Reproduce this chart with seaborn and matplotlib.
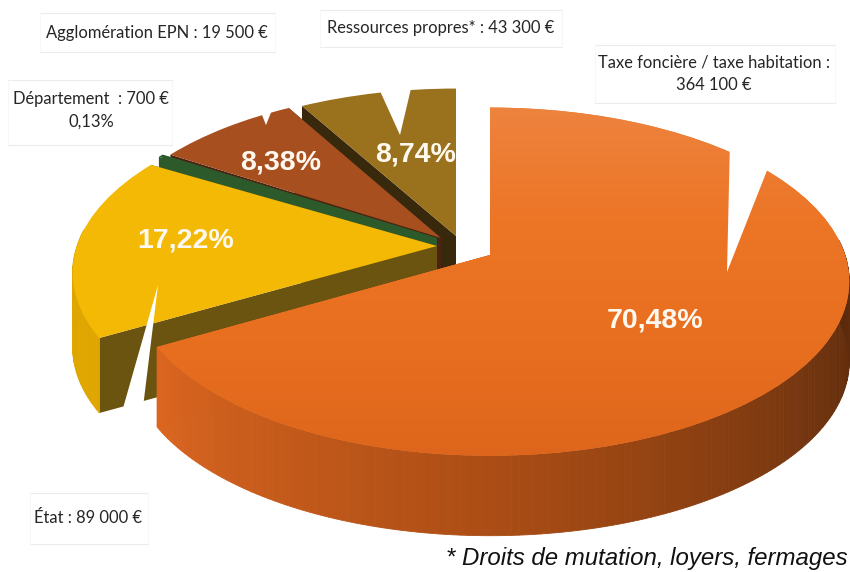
import numpy as np
import matplotlib.pyplot as plt
import matplotlib.transforms as mtransforms
from matplotlib.patches import Rectangle
import seaborn as sns

# categories in pie order, clockwise from 12 o'clock
categories = ["Taxe", "Etat", "Departement", "Agglomeration", "Ressources"]
# share of the circle as it is drawn in the picture (printed % do not add up to 100)
drawn_shares = [66.67, 16.94, 0.28, 7.78, 8.33]
printed_pct = ["70,48%", "17,22%", "", "8,38%", "8,74%"]

top_colors = ["#EC7424", "#F3B905", "#2C5A2A", "#A84F20", "#9A711C"]
rim_colors = [
    ["#DB6620", "#AB4D15", "#6E330F", "#4A220A", "#4A220A"],
    ["#E0A600", "#E0A600"],
    ["#2C5A2A", "#2C5A2A"],
    ["#6E3212", "#6E3212"],
    ["#6B4E10", "#6B4E10"],
]
face_colors = ["#B5521A", "#6A5410", "#2C5A2A", "#4A2410", "#38280C"]

# where each slice's tip sits, and how wide it is, in figure pixels
tips = [(490, 255), (437, 246), (437, 238), (441, 238), (456, 236)]
radius_x = [355, 360, 350, 345, 349]
radius_y = 170
depths = [80, 75, 80, 80, 80]
tilt_k = 0.153
draw_rank = [5, 4, 3, 2, 1]

pct_positions = [(655, 320), (186, 241), None, (281, 163), (416, 155)]

boxes = [(40, 13, 235, 39), (320, 10, 242, 37), (8, 80, 164, 65), (595, 45, 240, 58), (30, 493, 118, 51)]
label_texts = [
    ("Agglomération EPN : 19 500 €", 157, 33),
    ("Ressources propres* : 43 300 €", 441, 28),
    ("Département  : 700 €", 91, 99),
    ("0,13%", 91, 122),
    ("Taxe foncière / taxe habitation :", 714, 62),
    ("364 100 €", 714, 85),
    ("État : 89 000 €", 88, 518),
]
callouts = [
    [(727, 272), (730, 140), (779, 140)],
    [(158, 285), (114, 440), (139, 440)],
    [(400, 135), (375, 80), (413, 80)],
    [(266, 125), (258, 105), (274, 105)],
]


class Tilt(mtransforms.Transform):
    input_dims = 2
    output_dims = 2

    def transform_non_affine(self, values):
        values = np.asarray(values, dtype=float)
        s = 1.0 / (1.0 + tilt_k * values[:, 1])
        return values * s[:, None]


def rim_point(angle, tip, rx):
    a = np.radians(angle)
    s = 1.0 / (1.0 + tilt_k * np.sin(a))
    return tip[0] + rx * np.cos(a) * s, tip[1] - radius_y * np.sin(a) * s


sns.set_theme(style="white")
fig = plt.figure(figsize=(8.5, 5.72), dpi=100)
ax = fig.add_axes([0, 0, 1, 1])

wedges, _ = ax.pie(drawn_shares, colors=top_colors, startangle=90, counterclock=False,
                   wedgeprops={"linewidth": 0, "edgecolor": "none"})

for i, wedge in enumerate(wedges):
    rx = radius_x[i]
    tip = tips[i]
    depth = depths[i]
    rank = draw_rank[i] * 10
    place = mtransforms.Affine2D().scale(rx, -radius_y).translate(*tip)
    wedge.set_transform(Tilt() + place + ax.transData)
    wedge.set_zorder(rank + 2)

    # the two cut faces
    for angle in (wedge.theta1, wedge.theta2):
        x0, y0 = rim_point(angle, tip, rx)
        ax.fill([tip[0], x0, x0, tip[0]], [tip[1], y0, y0 + depth, tip[1] + depth],
                color=face_colors[i], lw=0, zorder=rank)

    # outer wall, built from short steps along the arc; the far side never shows
    n = max(int(wedge.theta2 - wedge.theta1), 2)
    steps = np.linspace(wedge.theta1, wedge.theta2, n + 1)
    palette = sns.blend_palette(rim_colors[i], n)
    for j in range(n):
        if np.sin(np.radians(steps[j])) > 0.1 or np.sin(np.radians(steps[j + 1])) > 0.1:
            continue
        x0, y0 = rim_point(steps[j], tip, rx)
        x1, y1 = rim_point(steps[j + 1], tip, rx)
        ax.fill([x0, x1, x1, x0], [y0, y1, y1 + depth, y0 + depth],
                color=palette[j], lw=0.6, zorder=rank + 1)

# lighter toward the far edge on the big slice
orange_cmap = sns.blend_palette(["#EE8440", "#EC7526", "#E96F20", "#DD661C"], as_cmap=True)
gradient = np.linspace(0, 1, 256).reshape(-1, 1)
image = ax.imshow(gradient, cmap=orange_cmap, extent=(100, 850, 460, 100), aspect="auto",
                  zorder=wedges[0].get_zorder() + 1)
image.set_clip_path(wedges[0])

for polygon in callouts:
    xs, ys = zip(*polygon)
    ax.fill(xs, ys, color="white", lw=0, zorder=80)

for x, y, w, h in boxes:
    ax.add_patch(Rectangle((x, y), w, h, fc="white", ec="#F7F7F7", lw=0.8, zorder=81))
    ax.hlines([y, y + h], x, x + w, color="#ECECEC", lw=0.8, zorder=82)

for text, x, y in label_texts:
    ax.text(x, y, text, family="Lato", fontsize=11.9, color="#262626",
            ha="center", va="center", zorder=90)

for text, pos in zip(printed_pct, pct_positions):
    if pos:
        ax.text(pos[0], pos[1], text, family="Liberation Sans", fontsize=20.5, fontweight="bold",
                color="#FFF8EE", ha="center", va="center", zorder=90)

ax.text(848, 559, "* Droits de mutation, loyers, fermages", family="Liberation Sans", style="italic",
        fontsize=17.3, color="#111111", ha="right", va="center", zorder=90)

ax.set_aspect("auto")
ax.set_xlim(0, 850)
ax.set_ylim(572, 0)
ax.axis("off")
fig.savefig("out.png", dpi=100)
